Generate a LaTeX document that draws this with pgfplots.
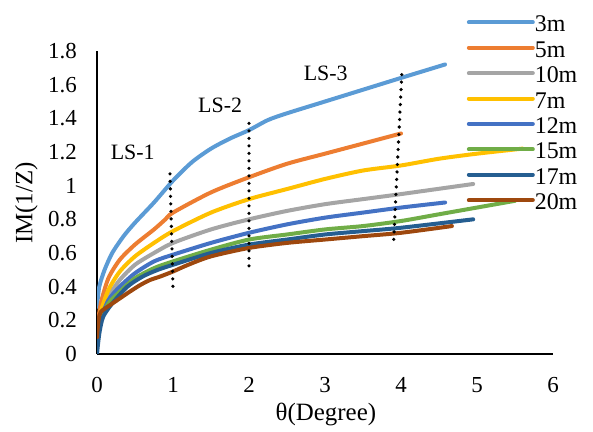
\documentclass[border=0pt]{standalone}
\usepackage{fontspec}
\setmainfont{Liberation Serif}
\usepackage{pgfplots}
\pgfplotsset{compat=1.18}
\definecolor{c3}{HTML}{5B9BD5}
\definecolor{c5}{HTML}{ED7D31}
\definecolor{c10}{HTML}{A5A5A5}
\definecolor{c7}{HTML}{FFC000}
\definecolor{c12}{HTML}{4472C4}
\definecolor{c15}{HTML}{70AD47}
\definecolor{c17}{HTML}{255E91}
\definecolor{c20}{HTML}{9E480E}
\begin{document}
\begin{tikzpicture}
\useasboundingbox (0,0) rectangle (593bp,432bp);
\begin{axis}[
  at={(97bp,78bp)}, anchor=south west,
  scale only axis, width=456bp, height=303bp,
  xmin=0, xmax=6, ymin=0, ymax=1.8,
  xtick={0,1,2,3,4,5,6},
  ytick={0,0.2,0.4,0.6,0.8,1,1.2,1.4,1.6,1.8},
  axis lines*=left,
  axis line style={line width=1.2bp, black},
  major tick length=0pt,
  /pgf/number format/assume math mode=true,
  tick label style={font=\fontsize{23}{26}\selectfont, inner sep=0pt},
  xticklabel style={anchor=center, yshift=-31bp},
  yticklabel style={anchor=east, xshift=-20bp},
  xlabel={θ(Degree)},
  xlabel style={at={(rel axis cs:0.502,-0.201)}, anchor=center, font=\fontsize{25}{28}\selectfont, inner sep=0pt},
  ylabel={IM(1/Z)},
  ylabel style={at={(rel axis cs:-0.155,0.498)}, anchor=center, font=\fontsize{25}{28}\selectfont, inner sep=0pt},
  legend style={at={(rel axis cs:0.811,1.116)}, anchor=north west, draw=none, fill=none,
    inner sep=0pt, outer sep=0pt,
    font=\fontsize{24}{27}\selectfont,
    nodes={inner sep=0pt, text height=16bp, text depth=0bp},
    row sep=9.4bp,
    /tikz/every even column/.append style={column sep=11bp}},
  legend cell align=left,
  legend image code/.code={\draw[#1, line width=4bp, line cap=round] (0bp,1.5bp) -- (64bp,1.5bp);},
  every axis plot/.append style={line width=4bp, line cap=round, line join=round, smooth, tension=0.45},
]
\addplot[c3] coordinates {(0,0.28)(0.03,0.4)(0.1,0.5)(0.2,0.6)(0.35,0.7)(0.5,0.78)(0.75,0.9)(1,1.03)(1.25,1.14)(1.5,1.22)(1.75,1.28)(2,1.33)(2.25,1.39)(2.5,1.43)(3,1.5)(3.5,1.57)(4,1.64)(4.58,1.72)};
\addlegendentry{3m}
\addplot[c5] coordinates {(0,0.15)(0.05,0.3)(0.15,0.45)(0.3,0.56)(0.5,0.65)(0.75,0.74)(0.9,0.8)(1,0.84)(1.5,0.96)(2,1.05)(2.5,1.13)(3,1.19)(3.5,1.25)(4,1.31)};
\addlegendentry{5m}
\addplot[c10] coordinates {(0,0.1)(0.05,0.22)(0.15,0.34)(0.3,0.44)(0.5,0.53)(0.75,0.6)(1,0.66)(1.5,0.74)(2,0.8)(2.5,0.85)(3,0.89)(3.5,0.92)(4,0.95)(4.95,1.01)};
\addlegendentry{10m}
\addplot[c7] coordinates {(0,0.1)(0.05,0.25)(0.15,0.38)(0.3,0.49)(0.5,0.58)(0.75,0.66)(1,0.73)(1.5,0.84)(2,0.92)(2.5,0.98)(3,1.04)(3.5,1.09)(4,1.12)(4.5,1.16)(5,1.19)(5.6,1.22)};
\addlegendentry{7m}
\addplot[c12] coordinates {(0,0.05)(0.05,0.2)(0.15,0.32)(0.3,0.4)(0.5,0.48)(0.75,0.55)(1,0.59)(1.5,0.66)(2,0.72)(2.5,0.77)(3,0.81)(3.5,0.84)(4,0.87)(4.58,0.9)};
\addlegendentry{12m}
\addplot[c15] coordinates {(0,0.05)(0.05,0.2)(0.15,0.3)(0.3,0.37)(0.5,0.45)(0.75,0.51)(1,0.55)(1.5,0.62)(2,0.68)(2.5,0.71)(3,0.74)(3.5,0.76)(4,0.79)(4.5,0.83)(5,0.87)(5.5,0.91)};
\addlegendentry{15m}
\addplot[c17] coordinates {(0,0)(0.03,0.12)(0.08,0.22)(0.2,0.3)(0.4,0.4)(0.6,0.46)(0.8,0.5)(1,0.53)(1.5,0.6)(2,0.65)(2.5,0.68)(3,0.71)(3.5,0.73)(4,0.75)(4.95,0.8)};
\addlegendentry{17m}
\addplot[c20] coordinates {(0,0.1)(0.02,0.2)(0.05,0.25)(0.17,0.29)(0.3,0.33)(0.43,0.37)(0.57,0.41)(0.7,0.44)(0.83,0.46)(1,0.49)(1.2,0.53)(1.5,0.58)(2,0.63)(2.5,0.66)(3,0.68)(3.5,0.7)(4,0.72)(4.67,0.76)};
\addlegendentry{20m}
\addplot[black, line width=3.6bp, dash pattern=on 0bp off 7.5bp, line cap=round, sharp plot, forget plot] coordinates {(0.96,1.07)(1.0,0.39)};
\addplot[black, line width=3.6bp, dash pattern=on 0bp off 7.5bp, line cap=round, sharp plot, forget plot] coordinates {(2.0,1.37)(2.0,0.5)};
\addplot[black, line width=3.6bp, dash pattern=on 0bp off 7.5bp, line cap=round, sharp plot, forget plot] coordinates {(4.01,1.66)(3.9,0.64)};
\node[font=\fontsize{22}{25}\selectfont] at (axis cs:0.47,1.20) {LS-1};
\node[font=\fontsize{22}{25}\selectfont] at (axis cs:1.62,1.48) {LS-2};
\node[font=\fontsize{22}{25}\selectfont] at (axis cs:3.01,1.67) {LS-3};
\node[font=\fontsize{36}{40}\selectfont, anchor=base, inner sep=0pt] at (rel axis cs:0.45,1.059) {IEA};
\end{axis}
\end{tikzpicture}
\end{document}
